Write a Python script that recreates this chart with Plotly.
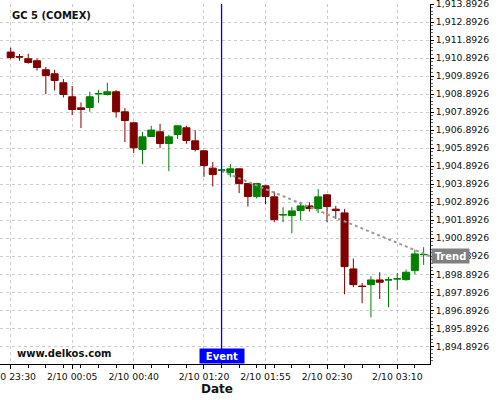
import plotly.graph_objects as go

times = [
    "2023-02-09 23:30", "2023-02-09 23:35", "2023-02-09 23:40", "2023-02-09 23:45",
    "2023-02-09 23:50", "2023-02-09 23:55", "2023-02-10 00:00", "2023-02-10 00:05",
    "2023-02-10 00:10", "2023-02-10 00:15", "2023-02-10 00:20", "2023-02-10 00:25",
    "2023-02-10 00:30", "2023-02-10 00:35", "2023-02-10 00:40", "2023-02-10 00:45",
    "2023-02-10 00:50", "2023-02-10 00:55", "2023-02-10 01:00", "2023-02-10 01:05",
    "2023-02-10 01:10", "2023-02-10 01:15", "2023-02-10 01:20", "2023-02-10 01:25",
    "2023-02-10 01:30", "2023-02-10 01:35", "2023-02-10 01:40", "2023-02-10 01:45",
    "2023-02-10 01:50", "2023-02-10 01:55", "2023-02-10 02:00", "2023-02-10 02:05",
    "2023-02-10 02:10", "2023-02-10 02:15", "2023-02-10 02:20", "2023-02-10 02:25",
    "2023-02-10 02:30", "2023-02-10 02:35", "2023-02-10 02:40", "2023-02-10 02:45",
    "2023-02-10 02:50", "2023-02-10 02:55", "2023-02-10 03:00", "2023-02-10 03:05",
    "2023-02-10 03:10", "2023-02-10 03:15", "2023-02-10 03:20", "2023-02-10 03:25",
]

opens = [
    1911.226, 1910.970, 1910.854, 1910.743, 1910.243, 1910.020, 1909.520, 1908.743,
    1908.131, 1908.148, 1908.900, 1908.870, 1909.020, 1907.909, 1907.298, 1905.815,
    1906.537, 1906.798, 1906.148, 1906.648, 1907.020, 1906.298, 1905.743, 1904.781,
    1904.660, 1904.537, 1904.743, 1903.926, 1903.204, 1903.798, 1903.187, 1902.180,
    1902.148, 1902.426, 1902.687, 1902.537, 1903.298, 1902.504, 1902.298, 1899.187,
    1898.235, 1898.315, 1898.576, 1898.570, 1898.625, 1898.593, 1899.093, 1899.975,
]
highs = [
    1911.465, 1911.115, 1911.132, 1910.854, 1910.393, 1910.243, 1909.726, 1909.337,
    1908.426, 1909.020, 1909.131, 1909.520, 1909.115, 1908.115, 1907.354, 1906.798,
    1907.131, 1907.243, 1906.631, 1907.160, 1907.131, 1906.893, 1905.770, 1905.115,
    1904.770, 1905.020, 1904.770, 1903.965, 1903.965, 1903.850, 1903.481, 1902.615,
    1902.615, 1902.909, 1902.892, 1903.615, 1903.350, 1902.687, 1902.520, 1899.759,
    1898.409, 1898.781, 1899.004, 1898.743, 1898.965, 1899.148, 1900.259, 1900.393,
]
lows = [
    1910.837, 1910.743, 1910.576, 1910.204, 1908.893, 1909.093, 1908.704, 1907.726,
    1907.004, 1907.909, 1908.409, 1908.815, 1907.593, 1906.226, 1905.615, 1905.004,
    1906.504, 1905.893, 1904.615, 1906.393, 1906.131, 1905.704, 1904.298, 1903.759,
    1904.576, 1904.281, 1903.393, 1902.648, 1903.093, 1902.781, 1901.781, 1901.781,
    1901.170, 1901.893, 1902.370, 1902.281, 1901.781, 1901.965, 1897.781, 1898.170,
    1897.281, 1896.504, 1897.520, 1897.060, 1898.020, 1898.537, 1898.893, 1899.409,
]
closes = [
    1910.926, 1910.950, 1910.648, 1910.370, 1909.926, 1909.648, 1908.870, 1908.037,
    1908.037, 1908.743, 1908.920, 1909.020, 1907.909, 1907.426, 1905.909, 1906.520,
    1906.893, 1906.148, 1906.520, 1907.131, 1906.315, 1905.815, 1904.926, 1904.426,
    1904.680, 1904.743, 1903.926, 1903.204, 1903.926, 1903.204, 1901.926, 1902.200,
    1902.409, 1902.687, 1902.537, 1903.187, 1902.648, 1902.426, 1899.315, 1898.315,
    1898.215, 1898.576, 1898.448, 1898.585, 1898.640, 1899.004, 1900.020, 1899.990,
]

trend_x = ["2023-02-10 01:30", "2023-02-10 03:28:37"]
trend_y = [1904.62, 1899.8926]

event_time = "2023-02-10 01:30"

x_tickvals = [
    "2023-02-09 23:30", "2023-02-10 00:05", "2023-02-10 00:40", "2023-02-10 01:20",
    "2023-02-10 01:55", "2023-02-10 02:30", "2023-02-10 03:10",
]
x_ticktext = [
    "2/10 23:30", "2/10 00:05", "2/10 00:40", "2/10 01:20",
    "2/10 01:55", "2/10 02:30", "2/10 03:10",
]
y_tickvals = [
    1894.8926, 1895.8926, 1896.8926, 1897.8926, 1898.8926, 1899.8926, 1900.8926,
    1901.8926, 1902.8926, 1903.8926, 1904.8926, 1905.8926, 1906.8926, 1907.8926,
    1908.8926, 1909.8926, 1910.8926, 1911.8926, 1912.8926, 1913.8926,
]
y_ticktext = [
    "1,894.8926", "1,895.8926", "1,896.8926", "1,897.8926", "1,898.8926",
    "1,899.8926", "1,900.8926", "1,901.8926", "1,902.8926", "1,903.8926",
    "1,904.8926", "1,905.8926", "1,906.8926", "1,907.8926", "1,908.8926",
    "1,909.8926", "1,910.8926", "1,911.8926", "1,912.8926", "1,913.8926",
]

FONT = "DejaVu Sans"
RED = "#800000"
GREEN = "#008000"

fig = go.Figure()
fig.add_trace(go.Candlestick(
    x=times, open=opens, high=highs, low=lows, close=closes,
    increasing=dict(line=dict(color=GREEN, width=1), fillcolor=GREEN),
    decreasing=dict(line=dict(color=RED, width=1), fillcolor=RED),
    whiskerwidth=0, showlegend=False, hoverinfo="skip",
))
fig.add_trace(go.Scatter(
    x=trend_x, y=trend_y, mode="lines",
    line=dict(color="#9a9a9a", width=2, dash="dot"),
    showlegend=False, hoverinfo="skip", cliponaxis=False,
))

fig.add_shape(type="line", xref="x", yref="paper", x0=event_time, x1=event_time,
              y0=0, y1=1, line=dict(color="#0000ff", width=1.3), layer="above")

fig.add_annotation(xref="x", yref="paper", x=event_time, y=0, yanchor="bottom",
                   text="<b>Event</b>", showarrow=False, bgcolor="#0000ff",
                   width=44, height=14, borderpad=0,
                   font=dict(family=FONT, size=10, color="white"))
fig.add_annotation(xref="paper", yref="y", x=1, xanchor="left", xshift=1,
                   y=1899.8926, yanchor="middle",
                   text="<b>Trend</b>", showarrow=False, bgcolor="#808080",
                   width=37, height=14, borderpad=0,
                   font=dict(family=FONT, size=10, color="white"))
fig.add_annotation(xref="paper", yref="paper", x=10 / 430, y=1 - 11.7 / 360,
                   xanchor="left", yanchor="middle", showarrow=False,
                   text="<b>GC 5 (COMEX)</b>",
                   font=dict(family=FONT, size=10, color="#111111"))
fig.add_annotation(xref="paper", yref="paper", x=15 / 430, y=10.7 / 360,
                   xanchor="left", yanchor="middle", showarrow=False,
                   text="<b>www.delkos.com</b>",
                   font=dict(family=FONT, size=10, color="#111111"))
fig.add_annotation(xref="paper", yref="paper", x=0.5, y=-25 / 360,
                   xanchor="center", yanchor="middle", showarrow=False,
                   xshift=2,
                   text="<b>Date</b>",
                   font=dict(family=FONT, size=12, color="#111111"))

fig.update_layout(
    width=500, height=400,
    margin=dict(l=0, r=70, t=4, b=36, autoexpand=False),
    paper_bgcolor="white", plot_bgcolor="white",
    boxgap=0.2, boxgroupgap=0,
    font=dict(family=FONT, size=9.3, color="black"),
    xaxis=dict(
        type="date", automargin=False,
        range=["2023-02-09 23:23:55", "2023-02-10 03:28:37"],
        rangeslider=dict(visible=False),
        tickmode="array", tickvals=x_tickvals, ticktext=x_ticktext,
        ticks="outside", ticklen=4, tickcolor="black",
        ticklabeloverflow="allow",
        showline=True, linecolor="black", linewidth=1,
        showgrid=True, gridcolor="#cccccc", griddash="3px,3px", gridwidth=1,
        zeroline=False,
        minor=dict(dtick=600000, tick0="2023-02-09 23:30", ticks="outside",
                   ticklen=3, tickcolor="black", showgrid=False),
        tickfont=dict(family=FONT, size=9.3, color="#111111"),
    ),
    yaxis=dict(
        side="right", automargin=False,
        range=[1893.91, 1913.8926],
        tickmode="array", tickvals=y_tickvals, ticktext=y_ticktext,
        ticks="outside", ticklen=3, tickcolor="black",
        ticklabeloverflow="allow",
        showline=True, linecolor="black", linewidth=1,
        showgrid=True, gridcolor="#cccccc", griddash="3px,3px", gridwidth=1,
        zeroline=False,
        minor=dict(dtick=0.2, tick0=1894.8926, ticks="outside", ticklen=2,
                   tickcolor="#666666", showgrid=False),
        tickfont=dict(family=FONT, size=9.3, color="#111111"),
    ),
)

fig.write_html(
    "out.html",
    config={"displayModeBar": False, "staticPlot": True},
    post_script="document.body.style.margin='0';document.body.style.overflow='hidden';",
)
